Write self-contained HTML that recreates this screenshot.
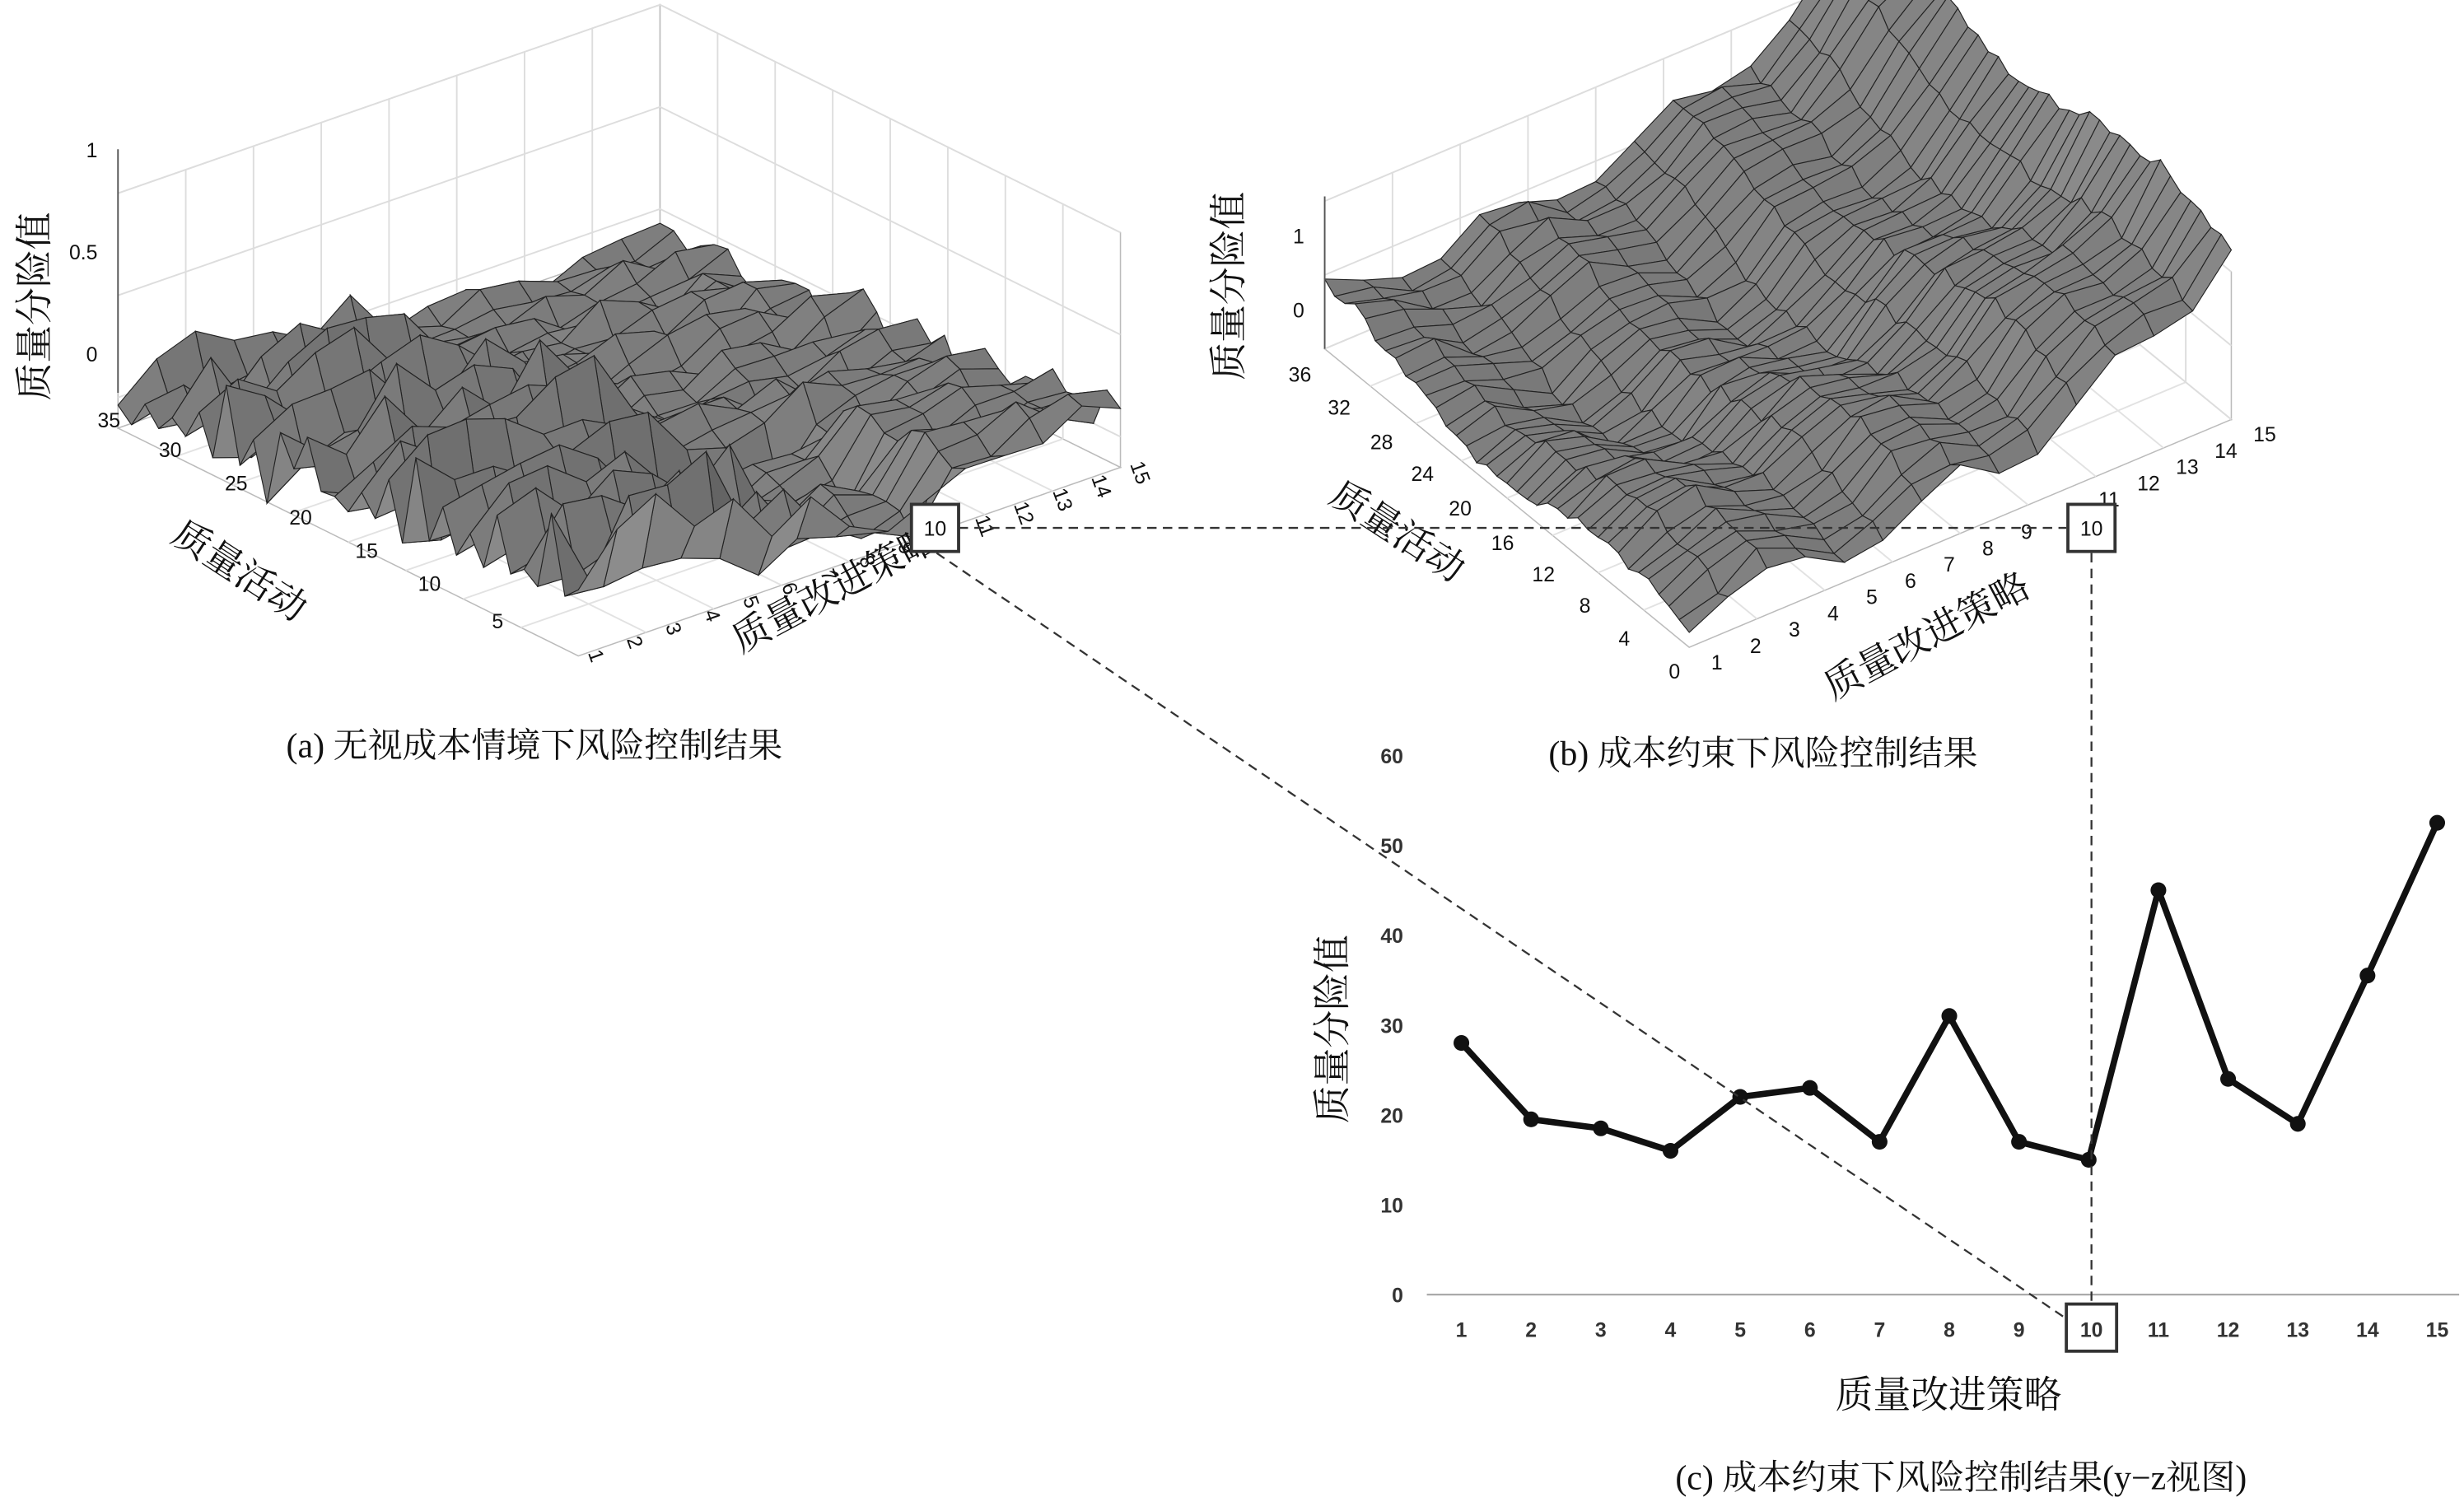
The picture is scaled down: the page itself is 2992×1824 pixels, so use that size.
<!DOCTYPE html>
<html><head><meta charset="utf-8">
<style>
html,body{margin:0;padding:0;background:#fff;}
svg{display:block;}
text{font-family:"Liberation Serif","Noto Serif CJK SC",serif;fill:#111;}
.t{font-family:"Liberation Sans","Noto Sans CJK SC",sans-serif;font-size:13px;}
.c{font-family:"Liberation Sans",sans-serif;font-size:13px;font-weight:bold;fill:#333;}
.lab{font-size:24px;font-family:"Liberation Serif","Noto Serif CJK SC",serif;}
.cap{font-size:22px;}
</style></head><body>
<svg id="s" width="2992" height="1824" viewBox="0 0 1568 956" xmlns="http://www.w3.org/2000/svg">
<rect width="1568" height="956" fill="#fff"/>
<g id="ga"></g><g id="gb"></g>
<g id="gc"></g>
<text class="lab" transform="translate(30,195) rotate(-90)" text-anchor="middle">质量分险值</text>
<text class="lab" transform="translate(148,370) rotate(33)" text-anchor="middle">质量活动</text>
<text class="lab" transform="translate(535,382) rotate(-28)" text-anchor="middle">质量改进策略</text>
<text class="cap" x="340" y="482" text-anchor="middle">(a) 无视成本情境下风险控制结果</text>
<text class="lab" transform="translate(790,182) rotate(-90)" text-anchor="middle">质量分险值</text>
<text class="lab" transform="translate(885,345) rotate(33)" text-anchor="middle">质量活动</text>
<text class="lab" transform="translate(1230,412) rotate(-28)" text-anchor="middle">质量改进策略</text>
<text class="cap" x="1122" y="487" text-anchor="middle">(b) 成本约束下风险控制结果</text>
<text class="lab" transform="translate(856,655) rotate(-90)" text-anchor="middle">质量分险值</text>
<text class="lab" x="1240" y="896" text-anchor="middle">质量改进策略</text>
<text class="cap" x="1248" y="948" text-anchor="middle">(c) 成本约束下风险控制结果(y−z视图)</text>
<g stroke="#333" stroke-width="1.2" stroke-dasharray="6,4" fill="none">
<line x1="610" y1="336" x2="1315" y2="336"/>
<line x1="1331" y1="352" x2="1331" y2="830"/>
<line x1="596" y1="352" x2="1316" y2="840"/>
</g>
<g fill="#fff" stroke="#333" stroke-width="2">
<rect x="580" y="321" width="30" height="30"/>
<rect x="1316" y="321" width="30" height="30"/>
<rect x="1315" y="830" width="32" height="30"/>
</g>
<text class="t" x="595" y="341" text-anchor="middle">10</text>
<text class="t" x="1331" y="341" text-anchor="middle" font-size="12">10</text>
<text class="c" x="1331" y="851" text-anchor="middle">10</text>
</svg>
<script>
const NS="http://www.w3.org/2000/svg";
function el(p,t,a,txt){const e=document.createElementNS(NS,t);for(const k in a)e.setAttribute(k,a[k]);if(txt!==undefined)e.textContent=txt;p.appendChild(e);return e;}
function rng(s){return function(){s|=0;s=s+0x6D2B79F5|0;let t=Math.imul(s^s>>>15,1|s);t=t+Math.imul(t^t>>>7,61|t)^t;return((t^t>>>14)>>>0)/4294967296;}}
function plot(g,F,U,V,Z,n,m,H,zr,gridZ){
 const P=(a,b,h)=>[F[0]+a*U[0]+b*V[0],F[1]+a*U[1]+b*V[1]-h*Z];
 const z0=zr[0],z1=zr[1];
 const w1=[P(0,1,z0),P(1,1,z0),P(1,1,z1),P(0,1,z1)];
 const w2=[P(1,1,z0),P(1,0,z0),P(1,0,z1),P(1,1,z1)];
 const w3=[P(0,0,z0),P(1,0,z0),P(1,1,z0),P(0,1,z0)];
 [w1,w2,w3].forEach(w=>el(g,'polygon',{points:w.map(p=>p.join(',')).join(' '),fill:'#fff',stroke:'#bbb','stroke-width':0.8}));
 for(let k=1;k<8;k++){const t=k/8;
  let a=P(t,1,z0),b=P(t,1,z1);el(g,'line',{x1:a[0],y1:a[1],x2:b[0],y2:b[1],stroke:'#ddd'});
  a=P(1,t,z0);b=P(1,t,z1);el(g,'line',{x1:a[0],y1:a[1],x2:b[0],y2:b[1],stroke:'#ddd'});
  a=P(t,0,z0);b=P(t,1,z0);el(g,'line',{x1:a[0],y1:a[1],x2:b[0],y2:b[1],stroke:'#e2e2e2'});
  a=P(0,t,z0);b=P(1,t,z0);el(g,'line',{x1:a[0],y1:a[1],x2:b[0],y2:b[1],stroke:'#e2e2e2'});}
 gridZ.forEach(z=>{let a=P(0,1,z),b=P(1,1,z),c=P(1,0,z);el(g,'polyline',{points:[a,b,c].map(p=>p.join(',')).join(' '),fill:'none',stroke:'#ddd'});});
 const h=[];for(let i=0;i<n;i++){h[i]=[];for(let j=0;j<m;j++)h[i][j]=H(i/(n-1),j/(m-1));}
 for(let j=m-2;j>=0;j--)for(let i=n-2;i>=0;i--){
  const a=i/(n-1),a2=(i+1)/(n-1),b=j/(m-1),b2=(j+1)/(m-1);
  const pts=[P(a,b,h[i][j]),P(a2,b,h[i+1][j]),P(a2,b2,h[i+1][j+1]),P(a,b2,h[i][j+1])];
  const di=(h[i+1][j]+h[i+1][j+1]-h[i][j]-h[i][j+1])/2,dj=(h[i][j+1]+h[i+1][j+1]-h[i][j]-h[i+1][j])/2;
  let c=Math.round(125+ di*Z*0.35 - dj*Z*0.25);c=Math.max(45,Math.min(185,c));
  el(g,'polygon',{points:pts.map(p=>p[0].toFixed(1)+','+p[1].toFixed(1)).join(' '),fill:`rgb(${c},${c},${c})`,stroke:'#222','stroke-width':0.6});
 }
 return P;
}
(function(){
 const g=document.getElementById('ga');const r=rng(7);
 const R=[];for(let i=0;i<60*60;i++)R.push(r());
 const H=(a,b)=>{const i=Math.round(a*14),j=Math.round(b*34);const q=R[i*40+j];
  let v=0.05+0.15*q+0.06*Math.sin(j*1.3+i);
  if(i<7&&j%2==0)v+=0.3*R[i*50+j+7]+0.05;
  if(i>4&&i<10&&j<12)v-=0.2;
  v-=0.25*b;
  return v;};
 const P=plot(g,[368,398],[345,-120],[-293,-145],130,15,35,H,[-0.15,1],[0,0.5,1]);
 el(g,'line',{x1:75,y1:95,x2:75,y2:250,stroke:'#555'});
 [[1,95],[0.5,160],[0,225]].forEach(([t,y])=>el(g,'text',{class:'t',x:62,y:y+5,'text-anchor':'end'},String(t)));
 for(let k=1;k<=15;k++){if(k==10)continue;const p=P((k-1)/14,0,-0.15);el(g,'text',{class:'t',x:p[0]+6,y:p[1]-2,transform:`rotate(70 ${p[0]+6} ${p[1]-2})`},String(k));}
 [[5,313,400],[10,266,376],[15,226,355],[20,184,334],[25,143,312],[30,101,291],[35,62,272]].forEach(([t,x,y])=>el(g,'text',{class:'t',x:x,y:y},String(t)));
})();
(function(){
 const g=document.getElementById('gb');const r=rng(11);
 const R=[];for(let i=0;i<4000;i++)R.push(r());
 const H=(a,b)=>{const i=Math.round(a*14),j=Math.round(b*36);
  return 0.1+0.45*Math.pow(Math.sin(a*Math.PI*3.2+b*1.5),2)+1.9*Math.pow(a,3)+0.2*R[i*40+j]+0.25*Math.sin(b*8);};
 const P=plot(g,[1075,412],[345,-145],[-232,-190],47,15,37,H,[0,2],[0,1,2]);
 el(g,'line',{x1:843,y1:125,x2:843,y2:222,stroke:'#555'});
 [[1,150],[0,197]].forEach(([t,y])=>el(g,'text',{class:'t',x:830,y:y+5,'text-anchor':'end'},String(t)));
 for(let k=1;k<=15;k++){if(k==10)continue;const p=P((k-1)/14,0,0);el(g,'text',{class:'t',x:p[0]+14,y:p[1]+14},String(k));}
 [[0,1062,432],[4,1030,411],[8,1005,390],[12,975,370],[16,949,350],[20,922,328],[24,898,306],[28,872,286],[32,845,264],[36,820,243]].forEach(([t,x,y])=>el(g,'text',{class:'t',x:x,y:y},String(t)));
})();
(function(){
 const g=document.getElementById('gc');
 el(g,'line',{x1:908,y1:824,x2:1565,y2:824,stroke:'#aaa','stroke-width':1.2});
 for(let v=0;v<=60;v+=10)el(g,'text',{class:'c',x:893,y:824-v*5.72+5,'text-anchor':'end'},String(v));
 const vals=[28,19.5,18.5,16,22,23,17,31,17,15,45,24,19,35.5,52.5];
 const pts=vals.map((v,i)=>[930+i*44.36,824-v*5.72]);
 el(g,'polyline',{points:pts.map(p=>p.join(',')).join(' '),fill:'none',stroke:'#111','stroke-width':4,'stroke-linejoin':'round'});
 pts.forEach(p=>el(g,'circle',{cx:p[0],cy:p[1],r:5,fill:'#111'}));
 for(let k=1;k<=15;k++){if(k==10)continue;el(g,'text',{class:'c',x:930+(k-1)*44.36,y:851,'text-anchor':'middle'},String(k));}
})();
</script>
</body></html>
